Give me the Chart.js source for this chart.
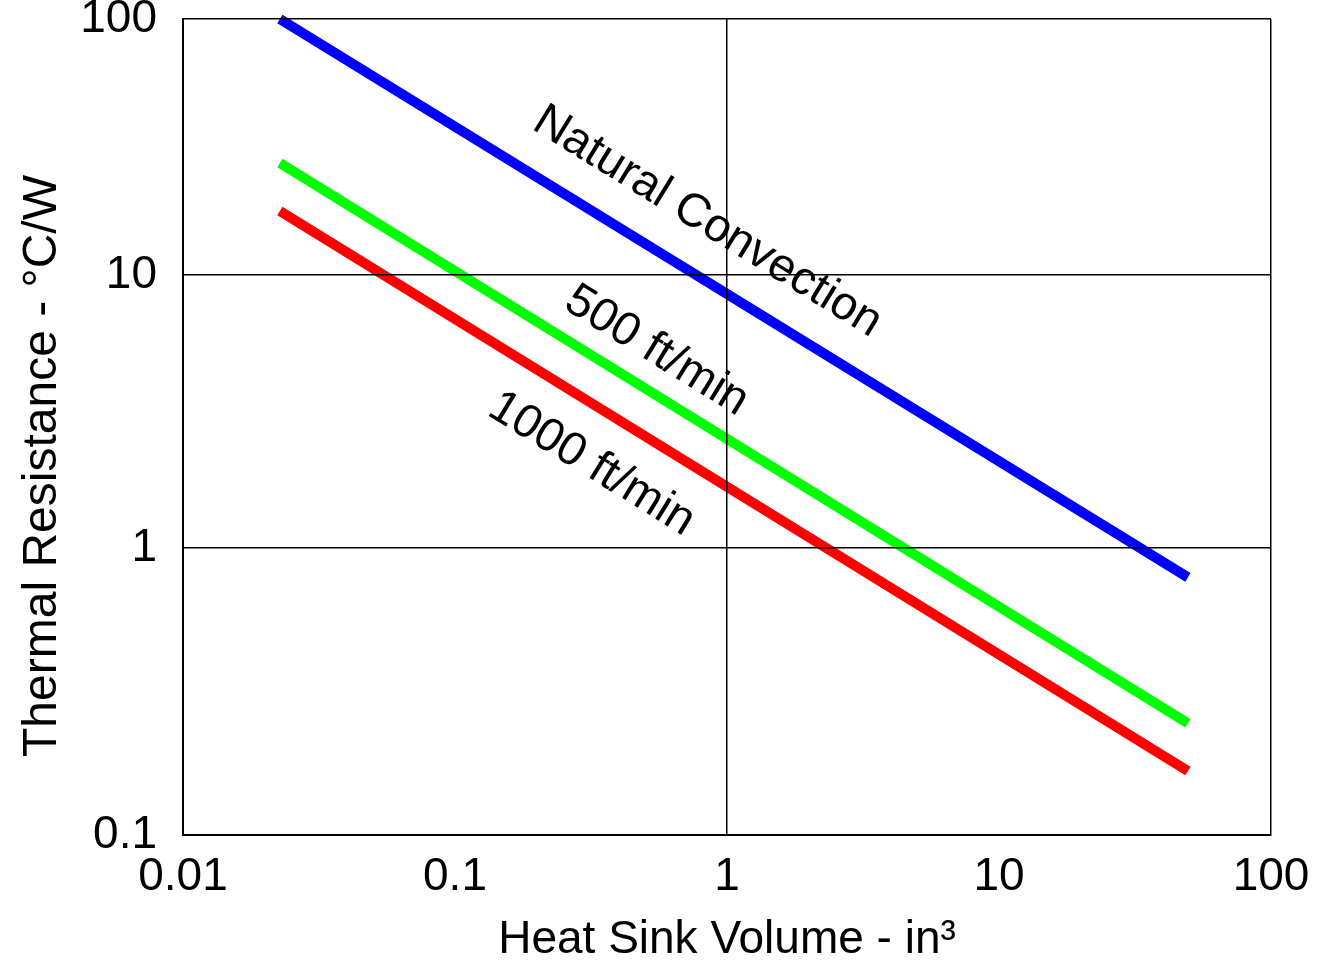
<!DOCTYPE html>
<html>
<head>
<meta charset="utf-8">
<title>Heat sink thermal resistance vs volume</title>
<script src="https://cdn.jsdelivr.net/npm/chart.js@4.4.0/dist/chart.umd.min.js"></script>
<style>
  body { margin: 0; background: #fff; }
  #wrap { position: relative; width: 1328px; height: 963px; }
</style>
</head>
<body>
<div id="wrap"><canvas id="resistanceChart"></canvas></div>
<script>
// Heat sink volume (in^3) at the ends of each curve
const volume = [0.0227, 49.5];
// Thermal resistance (°C/W) per curve
const naturalConvection = [100, 0.79];
const air500 = [27.4, 0.245];
const air1000 = [17.8, 0.167];

const xTicks = [0.01, 0.1, 1, 10, 100];
const xGridValues = [0.01, 1, 100]; // the original only draws a vertical rule at 1
const yTicks = [0.1, 1, 10, 100];

// curve labels and where they sit (data units)
const curveLabels = ['Natural Convection', '500 ft/min', '1000 ft/min'];
const labelX = [0.8, 0.52, 0.3];
const labelY = [14.6, 4.8, 1.85];

const FONT = '"Liberation Sans", Arial, Helvetica, sans-serif';

// the decades on the y axis are not equally tall in the original
const yDecadeStops = [0, 287 / 816, 560 / 816, 1];

const LogScale = Chart.registry.getScale('logarithmic');
class StretchedLogScale extends LogScale {
    getPixelForValue(value) {
        if (value === null || value === undefined || isNaN(value)) return NaN;
        const d = Math.log10(value / this.min);
        const i = Math.max(0, Math.min(yDecadeStops.length - 2, Math.floor(d)));
        const frac = yDecadeStops[i] + (d - i) * (yDecadeStops[i + 1] - yDecadeStops[i]);
        return this.getPixelForDecimal(frac);
    }
    getValueForPixel(pixel) {
        const frac = this.getDecimalForPixel(pixel);
        let i = 0;
        while (i < yDecadeStops.length - 2 && frac > yDecadeStops[i + 1]) i++;
        const d = i + (frac - yDecadeStops[i]) / (yDecadeStops[i + 1] - yDecadeStops[i]);
        return this.min * Math.pow(10, d);
    }
}
StretchedLogScale.id = 'stretchedLog';
StretchedLogScale.defaults = LogScale.defaults;
Chart.register(StretchedLogScale);

const toPoints = values => volume.map((x, i) => ({ x: x, y: values[i] }));

// rotated labels along the curves + y axis title
const curveLabelPlugin = {
    id: 'curveLabels',
    afterDatasetsDraw(chart) {
        const { ctx } = chart;
        const x = chart.scales.x, y = chart.scales.y;
        ctx.save();
        ctx.fillStyle = '#000';
        ctx.font = '47px ' + FONT;
        ctx.textAlign = 'center';
        ctx.textBaseline = 'alphabetic';
        chart.data.datasets.forEach((ds, i) => {
            const a = ds.data[0];
            const b = ds.data[ds.data.length - 1];
            const angle = Math.atan2(
                y.getPixelForValue(b.y) - y.getPixelForValue(a.y),
                x.getPixelForValue(b.x) - x.getPixelForValue(a.x)
            );
            ctx.save();
            ctx.translate(x.getPixelForValue(labelX[i]), y.getPixelForValue(labelY[i]));
            ctx.rotate(angle);
            ctx.fillText(curveLabels[i], 0, 0);
            ctx.restore();
        });

        ctx.font = '48px ' + FONT;
        ctx.translate(56, 466);
        ctx.rotate(-Math.PI / 2);
        ctx.fillText('Thermal Resistance - °C/W', 0, 0);
        ctx.restore();
    }
};

const ctx = document.getElementById('resistanceChart').getContext('2d');
new Chart(ctx, {
    type: 'line',
    data: {
        datasets: [
            {
                label: 'Natural Convection',
                data: toPoints(naturalConvection),
                borderColor: '#0000ff',
                backgroundColor: '#0000ff'
            },
            {
                label: '500 ft/min',
                data: toPoints(air500),
                borderColor: '#00ff00',
                backgroundColor: '#00ff00'
            },
            {
                label: '1000 ft/min',
                data: toPoints(air1000),
                borderColor: '#ff0000',
                backgroundColor: '#ff0000'
            }
        ]
    },
    options: {
        responsive: true,
        maintainAspectRatio: false,
        animation: false,
        clip: false,
        layout: { padding: { top: 19, right: 57, bottom: 0, left: 0 } },
        elements: {
            line: { borderWidth: 10, borderCapStyle: 'butt', tension: 0 },
            point: { radius: 0, hoverRadius: 0 }
        },
        plugins: {
            legend: { display: false },
            tooltip: { enabled: false }
        },
        scales: {
            x: {
                type: 'logarithmic',
                position: 'bottom',
                min: 0.01,
                max: 100,
                afterBuildTicks: scale => { scale.ticks = xTicks.map(v => ({ value: v })); },
                afterFit: scale => {
                    scale.height = 128;
                    scale.paddingLeft = 0;
                    scale.paddingRight = 0;
                },
                ticks: {
                    color: '#000',
                    font: { family: FONT, size: 46 },
                    padding: 15,
                    maxRotation: 0,
                    autoSkip: false,
                    callback: value => String(value)
                },
                grid: {
                    color: c => (c.tick && xGridValues.includes(c.tick.value)) ? '#000' : 'rgba(0,0,0,0)',
                    lineWidth: 1.5,
                    drawTicks: false,
                    z: 1
                },
                border: { color: '#000', width: 2, z: 1 },
                title: {
                    display: true,
                    text: 'Heat Sink Volume - in³',
                    color: '#000',
                    font: { family: FONT, size: 46, lineHeight: 1.0 },
                    padding: { top: 0, bottom: 0 }
                }
            },
            y: {
                type: 'stretchedLog',
                position: 'left',
                min: 0.1,
                max: 100,
                afterBuildTicks: scale => { scale.ticks = yTicks.map(v => ({ value: v })); },
                afterFit: scale => {
                    scale.width = 183;
                    scale.paddingTop = 0;
                    scale.paddingBottom = 0;
                },
                ticks: {
                    color: '#000',
                    font: { family: FONT, size: 46 },
                    padding: 26,
                    autoSkip: false,
                    callback: value => String(value)
                },
                grid: { color: '#000', lineWidth: 1.5, drawTicks: false, z: 1 },
                border: { color: '#000', width: 2, z: 1 }
            }
        }
    },
    plugins: [curveLabelPlugin]
});
</script>
</body>
</html>
